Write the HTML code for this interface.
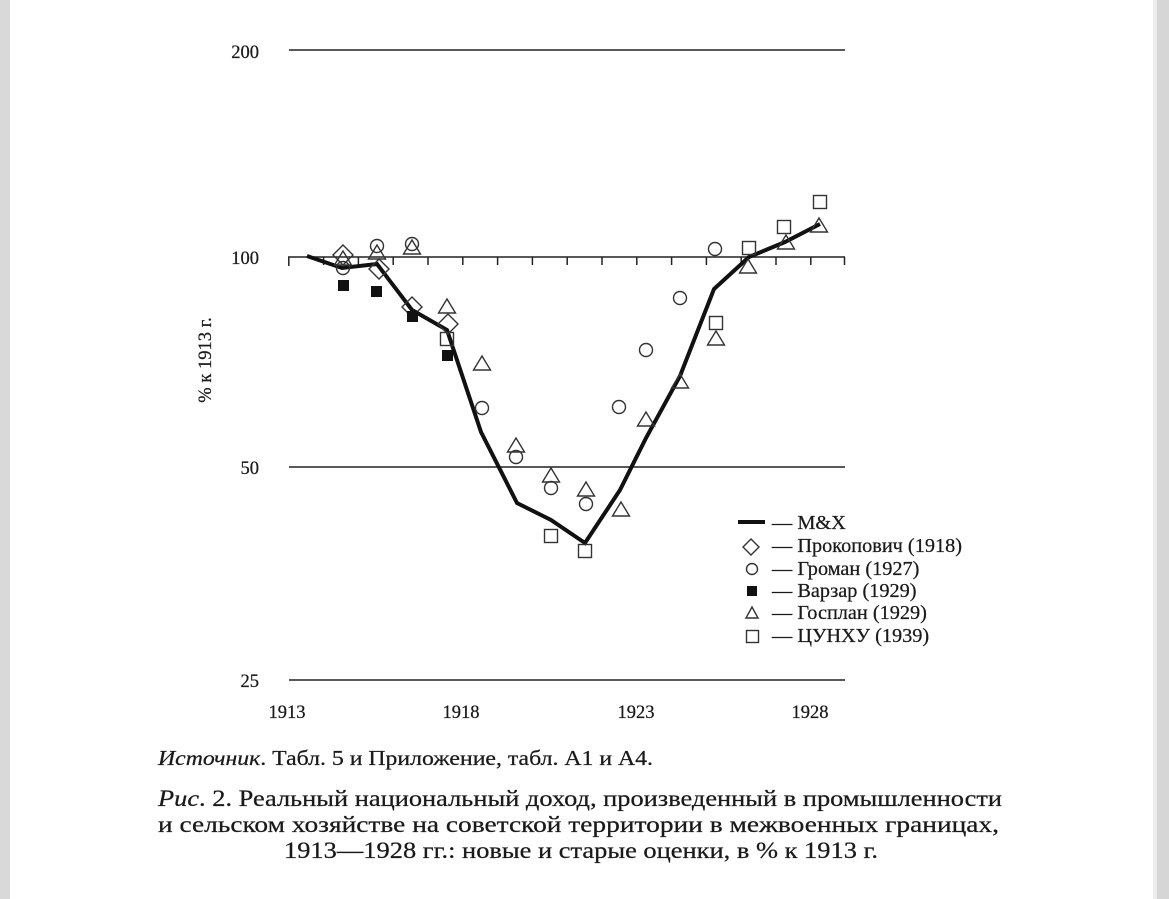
<!DOCTYPE html>
<html>
<head>
<meta charset="utf-8">
<style>
html,body{margin:0;padding:0;background:#fff;}
svg{display:block;}
text{font-family:"Liberation Serif","Noto Serif CJK SC",serif;fill:#1a1a1a;stroke:#1a1a1a;stroke-width:0.25;}
</style>
</head>
<body>
<svg width="1169" height="899" viewBox="0 0 1169 899" xmlns="http://www.w3.org/2000/svg">
  <rect x="0" y="0" width="1169" height="899" fill="#fff"/>
  <rect x="0" y="0" width="10" height="899" fill="#d9d9d9"/>
  <rect x="1153" y="0" width="4" height="899" fill="#ececec"/>
  <rect x="1157" y="0" width="12" height="899" fill="#d6d6d6"/>

  <!-- grid lines -->
  <g stroke="#222" stroke-width="1.5">
    <line x1="289" y1="50" x2="845" y2="50"/>
    <line x1="288" y1="257" x2="845" y2="257"/>
    <line x1="289" y1="467" x2="845" y2="467"/>
    <line x1="289" y1="680" x2="845" y2="680"/>
  </g>
  <!-- ticks -->
  <g stroke="#222" stroke-width="1.5">
    <line x1="288.8" y1="257" x2="288.8" y2="266"/>
    <line x1="323.6" y1="257" x2="323.6" y2="265"/>
    <line x1="358.4" y1="257" x2="358.4" y2="265"/>
    <line x1="393.2" y1="257" x2="393.2" y2="265"/>
    <line x1="428" y1="257" x2="428" y2="265"/>
    <line x1="462.8" y1="257" x2="462.8" y2="265"/>
    <line x1="497.6" y1="257" x2="497.6" y2="265"/>
    <line x1="532.4" y1="257" x2="532.4" y2="265"/>
    <line x1="567.2" y1="257" x2="567.2" y2="265"/>
    <line x1="602" y1="257" x2="602" y2="265"/>
    <line x1="636.8" y1="257" x2="636.8" y2="265"/>
    <line x1="671.6" y1="257" x2="671.6" y2="265"/>
    <line x1="706.4" y1="257" x2="706.4" y2="265"/>
    <line x1="741.2" y1="257" x2="741.2" y2="265"/>
    <line x1="776" y1="257" x2="776" y2="265"/>
    <line x1="810.8" y1="257" x2="810.8" y2="265"/>
    <line x1="844.5" y1="257" x2="844.5" y2="265"/>
  </g>

  <!-- y labels -->
  <g font-size="18.5" text-anchor="end">
    <text x="259" y="58">200</text>
    <text x="259" y="264">100</text>
    <text x="259" y="474">50</text>
    <text x="259" y="687">25</text>
  </g>
  <!-- x labels -->
  <g font-size="18.5" text-anchor="middle">
    <text x="287" y="718">1913</text>
    <text x="461" y="718">1918</text>
    <text x="636" y="718">1923</text>
    <text x="810" y="718">1928</text>
  </g>
  <!-- y title -->
  <text x="0" y="0" font-size="18.5" text-anchor="middle" transform="translate(211,360) rotate(-90)">% к 1913 г.</text>

  <!-- M&X line -->
  <polyline fill="none" stroke="#111" stroke-width="4" stroke-linejoin="miter"
    points="307,256 342,268 377,264 412,310 447,330 481,432 517,503 551,520 585,543 620,490 646,438 680,376 714,289 749,257 785,242 820,224"/>

  <g fill="none" stroke="#333" stroke-width="1.4">
    <!-- diamonds -->
    <polygon points="343,245 353,255 343,265 333,255"/>
    <polygon points="379,259 389,269 379,279 369,269"/>
    <polygon points="412,297 422,307 412,317 402,307"/>
    <polygon points="448,314 458,324 448,334 438,324"/>
    <!-- circles -->
    <circle cx="343" cy="268" r="6.5"/>
    <circle cx="377" cy="246" r="6.5"/>
    <circle cx="412" cy="244" r="6.5"/>
    <circle cx="482" cy="408" r="6.5"/>
    <circle cx="516" cy="457" r="6.5"/>
    <circle cx="551" cy="488" r="6.5"/>
    <circle cx="586" cy="504" r="6.5"/>
    <circle cx="619" cy="407" r="6.5"/>
    <circle cx="646" cy="350" r="6.5"/>
    <circle cx="680" cy="298" r="6.5"/>
    <circle cx="715" cy="249" r="6.5"/>
    <!-- triangles -->
    <polygon points="343,251 351.5,265 334.5,265"/>
    <polygon points="377,245 385.5,259 368.5,259"/>
    <polygon points="412,240 420.5,254 403.5,254"/>
    <polygon points="447,299 455.5,313 438.5,313"/>
    <polygon points="482,356 490.5,370 473.5,370"/>
    <polygon points="516,438 524.5,452 507.5,452"/>
    <polygon points="551,468 559.5,482 542.5,482"/>
    <polygon points="586,482 594.5,496 577.5,496"/>
    <polygon points="621,502 629.5,516 612.5,516"/>
    <polygon points="646,412 654.5,426 637.5,426"/>
    <polygon points="680,374 688.5,388 671.5,388"/>
    <polygon points="716,331 724.5,345 707.5,345"/>
    <polygon points="748,259 756.5,273 739.5,273"/>
    <polygon points="786,235 794.5,249 777.5,249"/>
    <polygon points="819,218 827.5,232 810.5,232"/>
    <!-- open squares -->
    <rect x="440.5" y="332.5" width="13" height="13"/>
    <rect x="544.5" y="529.5" width="13" height="13"/>
    <rect x="578.5" y="544.5" width="13" height="13"/>
    <rect x="709.5" y="316.5" width="13" height="13"/>
    <rect x="742.5" y="241.5" width="13" height="13"/>
    <rect x="777.5" y="220.5" width="13" height="13"/>
    <rect x="813.5" y="195.5" width="13" height="13"/>
  </g>
  <!-- filled squares -->
  <g fill="#111">
    <rect x="338" y="280" width="11" height="11"/>
    <rect x="371" y="286" width="11" height="11"/>
    <rect x="407" y="311" width="11" height="11"/>
    <rect x="442" y="350" width="11" height="11"/>
  </g>

  <!-- legend -->
  <line x1="738" y1="522" x2="765" y2="522" stroke="#111" stroke-width="4"/>
  <g fill="none" stroke="#333" stroke-width="1.4">
    <polygon points="751,539 759,547 751,555 743,547"/>
    <circle cx="752" cy="569" r="5.5"/>
    <polygon points="752,607 758,618 746,618"/>
    <rect x="746.5" y="630.5" width="12" height="12"/>
  </g>
  <rect x="747" y="586" width="10" height="10" fill="#111"/>
  <g font-size="20.3">
    <text x="772" y="529">— M&amp;X</text>
    <text x="772" y="552">— Прокопович (1918)</text>
    <text x="772" y="575">— Громан (1927)</text>
    <text x="772" y="597">— Варзар (1929)</text>
    <text x="772" y="619">— Госплан (1929)</text>
    <text x="772" y="642">— ЦУНХУ (1939)</text>
  </g>

  <!-- captions -->
  <text x="158" y="765" font-size="21" textLength="495" lengthAdjust="spacingAndGlyphs"><tspan font-style="italic">Источник</tspan>. Табл. 5 и Приложение, табл. A1 и A4.</text>
  <text x="158" y="806" font-size="23" textLength="844" lengthAdjust="spacingAndGlyphs"><tspan font-style="italic">Рис</tspan>. 2. Реальный национальный доход, произведенный в промышленности</text>
  <text x="158" y="832" font-size="23" textLength="841" lengthAdjust="spacingAndGlyphs">и сельском хозяйстве на советской территории в межвоенных границах,</text>
  <text x="284" y="858" font-size="23" textLength="594" lengthAdjust="spacingAndGlyphs">1913—1928 гг.: новые и старые оценки, в % к 1913 г.</text>
</svg>
</body>
</html>
